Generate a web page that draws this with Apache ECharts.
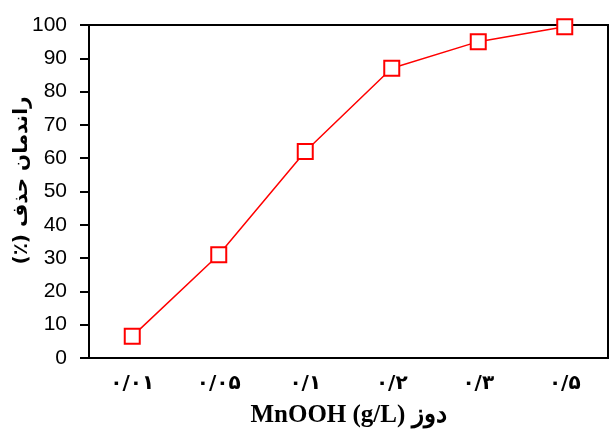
<!DOCTYPE html>
<html><head><meta charset="utf-8">
<script src="https://cdn.jsdelivr.net/npm/echarts@6/dist/echarts.min.js"></script>
<style>html,body{margin:0;padding:0;background:#fff}#c{width:613px;height:429px}</style>
</head><body><div id="c"></div>
<script>
var categories = ['۰/۰۱','۰/۰۵','۰/۱','۰/۲','۰/۳','۰/۵'];
var removal = [6.5, 31, 62, 87, 95, 99.5];
var yTitle = '(٪) راندمان حذف';
var xTitle = 'MnOOH (g/L) دوز';

var chart = echarts.init(document.getElementById('c'), null, {renderer:'canvas'});
chart.setOption({
  animation:false,
  backgroundColor:'#fff',
  grid:{left:89, right:5, top:25, bottom:71, show:true, borderColor:'#000', borderWidth:2, backgroundColor:'transparent', containLabel:false, outerBoundsMode:'none'},
  xAxis:{
    type:'category', data:categories, boundaryGap:true,
    axisLine:{lineStyle:{color:'#000', width:2}},
    axisTick:{alignWithLabel:true, length:8, lineStyle:{color:'#000', width:2}},
    axisLabel:{color:'#000', fontSize:20, fontWeight:'bold', fontFamily:'DejaVu Sans', margin:16},
    name:xTitle, nameLocation:'middle', nameGap:45, nameMoveOverlap:false,
    nameTextStyle:{color:'#000', fontSize:25, fontWeight:'bold', fontFamily:'Liberation Serif, DejaVu Serif, serif'}
  },
  yAxis:{
    type:'value', min:0, max:100, interval:10,
    axisLine:{show:true, lineStyle:{color:'#000', width:2}},
    axisTick:{show:true, length:9, lineStyle:{color:'#000', width:2}},
    splitLine:{show:false},
    axisLabel:{color:'#000', fontSize:21, fontFamily:'Liberation Sans, Arial, sans-serif', margin:22},
    name:yTitle, nameLocation:'middle', nameGap:57, nameRotate:90, nameMoveOverlap:false,
    nameTextStyle:{color:'#000', fontSize:20, fontWeight:'bold', fontFamily:'DejaVu Sans, Liberation Sans, sans-serif', padding:[0,0,0,22]}
  },
  series:[{
    type:'line', data:removal,
    symbol:'emptyRect', symbolSize:15,
    lineStyle:{color:'#ff0000', width:1.5},
    itemStyle:{color:'#ff0000', borderColor:'#ff0000', borderWidth:1.5}
  }]
});
</script></body></html>
